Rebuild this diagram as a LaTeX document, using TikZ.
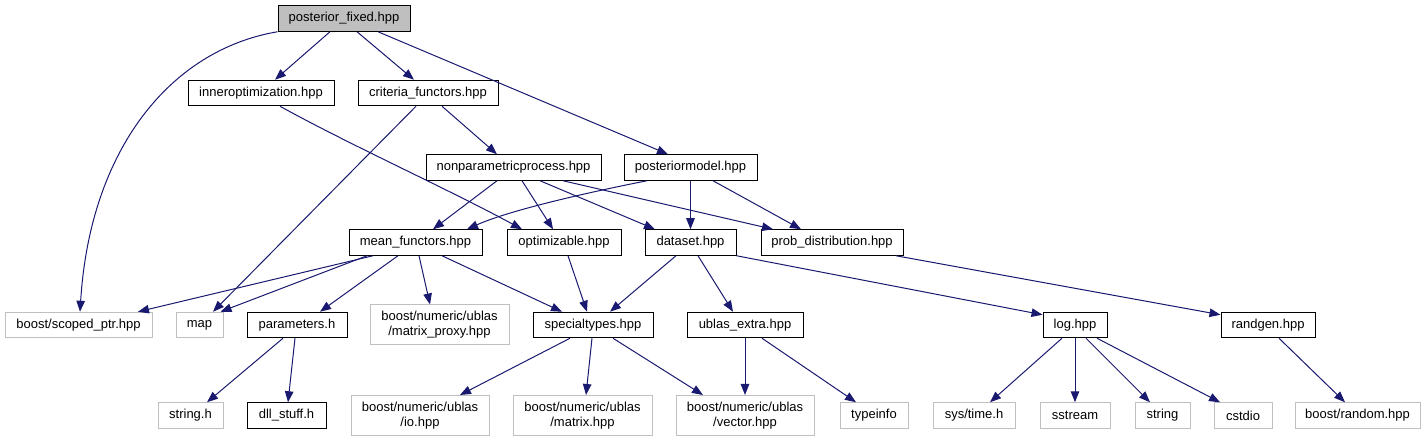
\documentclass[tikz,border=0pt]{standalone}
\usepackage{fontspec}
\setmainfont{Liberation Sans}
\usetikzlibrary{arrows.meta}
\definecolor{edgeblue}{HTML}{191970}
\definecolor{extgray}{HTML}{BFBFBF}
\begin{document}
\begin{tikzpicture}[x=1pt,y=-1pt,
  box/.style={draw=black, line width=1pt, inner sep=0pt, minimum height=25.5pt,
    font=\fontsize{13}{15}\selectfont, align=center},
  ext/.style={box, draw=extgray},
  ext2/.style={ext, minimum height=40pt},
  dep/.style={draw=edgeblue, line width=1pt, -{Triangle[length=11pt,width=8.5pt]}}
]
\useasboundingbox (0,0) rectangle (1424,443);
% row 0
\node[box, fill=extgray, minimum width=132pt] (pf) at (344,18.5) {posterior\_fixed.hpp};
% row 1
\node[box, minimum width=146pt] (inner) at (261,93) {inneroptimization.hpp};
\node[box, minimum width=140pt] (crit) at (428,93) {criteria\_functors.hpp};
% row 2
\node[box, minimum width=175pt] (nonp) at (513.5,167.5) {nonparametricprocess.hpp};
\node[box, minimum width=133pt] (postm) at (690.5,167.5) {posteriormodel.hpp};
% row 3
\node[box, minimum width=133pt] (mean) at (415.5,242.5) {mean\_functors.hpp};
\node[box, minimum width=114pt] (optim) at (564,242.5) {optimizable.hpp};
\node[box, minimum width=91pt] (dataset) at (690.5,242.5) {dataset.hpp};
\node[box, minimum width=142pt] (probd) at (832,242.5) {prob\_distribution.hpp};
% row 4
\node[ext, minimum width=147pt] (scoped) at (78.5,325) {boost/scoped\_ptr.hpp};
\node[ext, minimum width=47pt] (map) at (199.5,325) {map};
\node[box, minimum width=100pt] (params) at (297,325) {parameters.h};
\node[ext2, minimum width=139pt] (mproxy) at (439.5,325) {boost/numeric/ublas\\/matrix\_proxy.hpp};
\node[box, minimum width=120pt] (special) at (593,325) {specialtypes.hpp};
\node[box, minimum width=116pt] (ublasx) at (745,325) {ublas\_extra.hpp};
\node[box, minimum width=64pt] (log) at (1075,325) {log.hpp};
\node[box, minimum width=94pt] (randgen) at (1268,325) {randgen.hpp};
% row 5
\node[ext, minimum width=65pt] (strh) at (190.5,415.5) {string.h};
\node[box, minimum width=79pt] (dll) at (286.5,415.5) {dll\_stuff.h};
\node[ext2, minimum width=138pt] (io) at (420,415.5) {boost/numeric/ublas\\/io.hpp};
\node[ext2, minimum width=139pt] (matrix) at (582.5,415.5) {boost/numeric/ublas\\/matrix.hpp};
\node[ext2, minimum width=138pt] (vector) at (745,415.5) {boost/numeric/ublas\\/vector.hpp};
\node[ext, minimum width=68pt] (typeinfo) at (874,415.5) {typeinfo};
\node[ext, minimum width=82pt] (systime) at (974,415.5) {sys/time.h};
\node[ext, minimum width=70pt] (sstream) at (1075,415.5) {sstream};
\node[ext, minimum width=55pt] (string) at (1162.5,415.5) {string};
\node[ext, minimum width=58pt] (cstdio) at (1243,415.5) {cstdio};
\node[ext, minimum width=125pt] (brandom) at (1357.5,415.5) {boost/random.hpp};

% edges
\draw[dep] (pf.south west) .. controls (170,50) and (90,150) .. ([xshift=1.5pt]scoped.north);
\draw[dep] ([xshift=-14pt]pf.south) -- ([xshift=14pt]inner.north);
\draw[dep] ([xshift=13pt]pf.south) -- ([xshift=-14pt]crit.north);
\draw[dep] ([xshift=34pt]pf.south) -- ([xshift=-22.5pt]postm.north);
\draw[dep] ([xshift=19pt]inner.south) .. controls (350,145) and (450,190) .. ([xshift=-42pt]optim.north);
\draw[dep] ([xshift=-12pt]crit.south) -- ([xshift=13.5pt]map.north);
\draw[dep] ([xshift=14pt]crit.south) -- ([xshift=-16.5pt]nonp.north);
\draw[dep] ([xshift=-16.5pt]nonp.south) -- ([xshift=17.5pt]mean.north);
\draw[dep] ([xshift=8.5pt]nonp.south) -- ([xshift=-11pt]optim.north);
\draw[dep] ([xshift=26.5pt]nonp.south) -- ([xshift=-35.5pt]dataset.north);
\draw[dep] ([xshift=49.5pt]nonp.south) -- ([xshift=-59pt]probd.north);
\draw[dep] ([xshift=-43.5pt]postm.south) .. controls (590,192) and (510,210) .. ([xshift=51.5pt]mean.north);
\draw[dep] (postm.south) -- (dataset.north);
\draw[dep] ([xshift=22.5pt]postm.south) -- ([xshift=-31pt]probd.north);
\draw[dep] ([xshift=-42.5pt]mean.south) -- ([xshift=59.5pt]scoped.north);
\draw[dep] ([xshift=-48.5pt]mean.south) -- ([xshift=-3pt]map.north east);
\draw[dep] ([xshift=-17.5pt]mean.south) -- ([xshift=23pt]params.north);
\draw[dep] ([xshift=3.5pt]mean.south) -- ([xshift=-9.5pt]mproxy.north);
\draw[dep] ([xshift=26.5pt]mean.south) -- ([xshift=-31pt]special.north);
\draw[dep] ([xshift=4pt]optim.south) -- ([xshift=-6pt]special.north);
\draw[dep] ([xshift=-14.5pt]dataset.south) -- ([xshift=17pt]special.north);
\draw[dep] ([xshift=7.5pt]dataset.south) -- ([xshift=-12pt]ublasx.north);
\draw[dep] (dataset.south east) -- ([yshift=-3pt]log.north west);
\draw[dep] ([xshift=64pt]probd.south) -- ([yshift=-3pt]randgen.north west);
\draw[dep] ([xshift=-14pt]params.south) -- ([xshift=16.5pt]strh.north);
\draw[dep] ([xshift=-2pt]params.south) -- ([xshift=1.5pt]dll.north);
\draw[dep] ([xshift=-23pt]special.south) -- ([xshift=40pt]io.north);
\draw[dep] ([xshift=-1pt]special.south) -- ([xshift=3.5pt]matrix.north);
\draw[dep] ([xshift=20pt]special.south) -- ([xshift=-42pt]vector.north);
\draw[dep] (ublasx.south) -- (vector.north);
\draw[dep] ([xshift=17pt]ublasx.south) -- ([xshift=-18pt]typeinfo.north);
\draw[dep] ([xshift=-13pt]log.south) -- ([xshift=16pt]systime.north);
\draw[dep] (log.south) -- (sstream.north);
\draw[dep] ([xshift=11pt]log.south) -- ([xshift=-12.5pt]string.north);
\draw[dep] ([xshift=22pt]log.south) -- ([xshift=-23pt]cstdio.north);
\draw[dep] ([xshift=11pt]randgen.south) -- ([xshift=-12.5pt]brandom.north);
\end{tikzpicture}
\end{document}
